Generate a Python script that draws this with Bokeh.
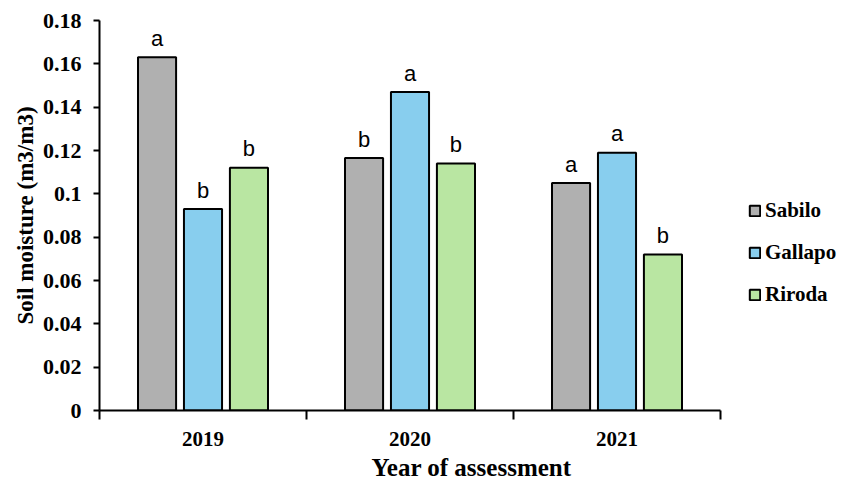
from bokeh.plotting import figure
from bokeh.models import ColumnDataSource, FixedTicker, Legend, LegendItem, Range1d
from bokeh.core.properties import value
from bokeh.embed import file_html
from bokeh.resources import INLINE

years = ["2019", "2020", "2021"]
series = ["Sabilo", "Gallapo", "Riroda"]
sabilo = [0.163, 0.1165, 0.105]
gallapo = [0.093, 0.147, 0.119]
riroda = [0.112, 0.114, 0.072]
letters_sabilo = ["a", "b", "a"]
letters_gallapo = ["b", "a", "a"]
letters_riroda = ["b", "b", "b"]
y_ticks = [0, 0.02, 0.04, 0.06, 0.08, 0.1, 0.12, 0.14, 0.16, 0.18]

colors = ["#b0b0b0", "#88ceee", "#b9e6a2"]
offsets = [-0.222, 0.0, 0.222]
bar_w = 0.184

W, H = 843, 483
left_b, top_b, bottom_b = 99, 20, 72
axis_right_px = 720
ncat = len(years)
x_end = ncat * (W - left_b) / (axis_right_px - left_b)

p = figure(width=W, height=H, output_backend="svg", toolbar_location=None,
           x_range=Range1d(0, x_end), y_range=Range1d(0, 0.18))
p.min_border_left = left_b
p.min_border_right = 0
p.min_border_top = top_b
p.min_border_bottom = bottom_b
p.outline_line_color = None
p.grid.visible = False
p.background_fill_color = "white"
p.border_fill_color = "white"

serif = "Liberation Serif"

# x axis
xa = p.xaxis[0]
xa.bounds = (0, ncat)
xa.ticker = FixedTicker(ticks=[k + 0.5 for k in range(ncat)], minor_ticks=list(range(ncat + 1)))
xa.major_label_overrides = {k + 0.5: years[k] for k in range(ncat)}
xa.major_tick_line_color = None
xa.major_tick_out = 0
xa.major_tick_in = 0
xa.minor_tick_line_color = "black"
xa.minor_tick_line_width = 2
xa.minor_tick_out = 9
xa.minor_tick_in = 0
xa.axis_line_width = 2
xa.axis_line_color = "black"
xa.major_label_text_font = serif
xa.major_label_text_font_style = "bold"
xa.major_label_text_font_size = "21px"
xa.major_label_text_color = "black"
xa.major_label_standoff = 12
xa.axis_label = "Year of assessment"
xa.axis_label_text_font = serif
xa.axis_label_text_font_style = "bold"
xa.axis_label_text_font_size = "25px"
xa.axis_label_text_color = "black"
xa.axis_label_standoff = 5

# y axis
ya = p.yaxis[0]
ya.ticker = FixedTicker(ticks=y_ticks, minor_ticks=[])
ya.major_label_overrides = {t: ("0" if t == 0 else ("%g" % t)) for t in y_ticks}
ya.major_tick_line_width = 2
ya.major_tick_out = 6
ya.major_tick_in = 0
ya.axis_line_width = 2
ya.axis_line_color = "black"
ya.major_label_text_font = serif
ya.major_label_text_font_style = "bold"
ya.major_label_text_font_size = "22px"
ya.major_label_text_color = "black"
ya.major_label_standoff = 12
ya.axis_label = "Soil moisture (m3/m3)"
ya.axis_label_text_font = serif
ya.axis_label_text_font_style = "bold"
ya.axis_label_text_font_size = "23px"
ya.axis_label_text_color = "black"
ya.axis_label_standoff = 2

all_vals = [sabilo, gallapo, riroda]
all_letters = [letters_sabilo, letters_gallapo, letters_riroda]
items = []
for i, (name, vals, lets) in enumerate(zip(series, all_vals, all_letters)):
    xs = [k + 0.5 + offsets[i] for k in range(ncat)]
    src = ColumnDataSource(dict(x=xs, top=vals, lab=lets))
    r = p.vbar(x="x", top="top", width=bar_w, bottom=0, source=src,
               fill_color=colors[i], line_color="black", line_width=2)
    p.text(x="x", y="top", text="lab", source=src, text_align="center",
           text_baseline="alphabetic", y_offset=-19,
           text_font=value("Liberation Sans"), text_font_size="22px", text_color="black")
    items.append(LegendItem(label=name, renderers=[r]))

legend = Legend(items=items, location=(649, 103), orientation="vertical")
legend.glyph_width = 13
legend.glyph_height = 13
legend.label_standoff = 4
legend.label_height = 24
legend.spacing = 17
legend.padding = 0
legend.margin = 0
legend.border_line_color = None
legend.background_fill_alpha = 0
legend.label_text_font = serif
legend.label_text_font_style = "bold"
legend.label_text_font_size = "21px"
legend.label_text_color = "black"
p.add_layout(legend, "center")

open("out.html", "w").write(file_html(p, INLINE))
